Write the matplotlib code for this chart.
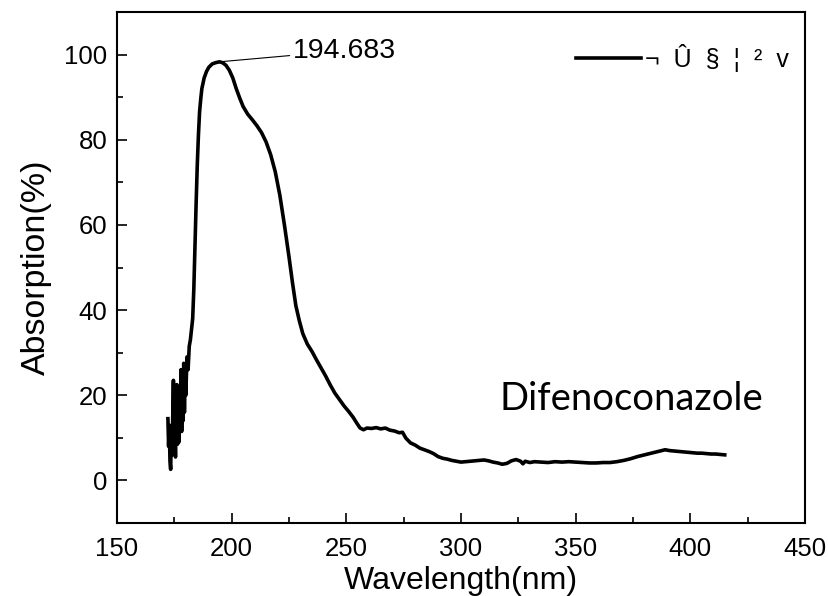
import matplotlib
matplotlib.use("Agg")
import matplotlib.pyplot as plt
from matplotlib.ticker import MultipleLocator

# Noisy onset region (nm, %)
wl_noise = [172.2, 172.5, 172.8, 173.1, 173.4, 173.7, 174.0, 174.3, 174.6, 174.9,
            175.2, 175.5, 175.8, 176.1, 176.4, 176.7, 177.0, 177.3, 177.6, 177.9,
            178.2, 178.5, 178.8, 179.1, 179.4, 179.7, 180.0, 180.5, 181.0, 181.5,
            182.0, 182.5, 183.0]
ab_noise = [14.5, 8.0, 13.0, 4.5, 2.6, 11.0, 6.0, 15.0, 23.5, 7.0,
            12.0, 5.5, 18.0, 22.5, 8.5, 17.0, 9.0, 21.0, 12.0, 26.0,
            11.5, 24.0, 14.0, 27.5, 16.0, 25.0, 20.0, 29.0, 26.0, 31.5,
            33.0, 35.5, 38.0]

# Main band and tail
wl_main = [183.5, 184, 184.5, 185, 185.5, 186, 186.5, 187, 188, 189, 190, 191.5, 193,
           194.7, 196, 197.5, 199, 200.5, 202, 203.5, 205, 207, 209, 211, 213, 215,
           217, 219, 221, 223, 225, 226.5, 228, 229.5, 231, 233, 235, 237, 239, 241,
           243, 245, 247, 249, 251, 253, 254.5, 256, 257.5, 259, 261, 263, 265, 267,
           269, 271, 273, 274.5, 276, 278, 280, 282, 284, 286, 288, 290, 292, 294,
           296, 298, 300, 302, 304, 306, 308, 310, 312, 314, 316, 318, 320, 322, 324,
           326, 327, 328, 330, 332, 335, 338, 341, 344, 347, 350, 353, 356, 359, 362,
           365, 368, 371, 374, 377, 380, 383, 386, 389, 391, 393, 395, 397, 399, 401,
           403, 405, 407, 409, 411, 413, 415]
ab_main = [45, 55, 65, 74, 81, 86.5, 89.5, 92, 94.5, 96, 97, 97.8, 98.1,
           98.3, 98.1, 97.5, 96.3, 94.5, 92.0, 89.8, 87.8, 86.0, 84.7, 83.3, 81.7, 79.5,
           76.5, 72.5, 67, 60, 52.5, 46.5, 41, 37.5, 34.5, 32, 30.3, 28.3, 26.4, 24.5,
           22.4, 20.5, 19.0, 17.5, 16.2, 14.8, 13.5, 12.3, 11.9, 12.3, 12.2, 12.4, 12.1, 12.3,
           11.8, 11.6, 11.2, 11.3, 9.9, 8.8, 8.3, 7.6, 7.2, 6.8, 6.3, 5.6, 5.2, 5.0,
           4.7, 4.5, 4.3, 4.4, 4.5, 4.6, 4.7, 4.8, 4.6, 4.3, 4.1, 3.8, 4.0, 4.6, 4.9,
           4.5, 3.9, 4.5, 4.2, 4.4, 4.3, 4.2, 4.4, 4.3, 4.4, 4.3, 4.2, 4.1, 4.1, 4.2,
           4.2, 4.4, 4.7, 5.1, 5.6, 6.0, 6.4, 6.8, 7.2, 7.0, 6.9, 6.8, 6.7, 6.6, 6.5,
           6.4, 6.4, 6.3, 6.2, 6.2, 6.1, 6.0]

wavelength = wl_noise + wl_main
absorption = ab_noise + ab_main

peak_wl = 194.683
peak_ab = 98.3
peak_label = "194.683"
legend_label = "¬  Û  §  ¦  ²  v"
sample_name = "Difenoconazole"

plt.rcParams['font.family'] = ['Liberation Sans', 'DejaVu Sans']

fig = plt.figure(figsize=(8.29, 5.96), dpi=100)
ax = fig.add_axes([117/829, 1-523/596, (805-117)/829, (523-12)/596])

ax.plot(wavelength, absorption, color='black', lw=2.6, label=legend_label,
        solid_joinstyle='round')

ax.set_xlim(150, 450)
ax.set_ylim(-10, 110)
ax.xaxis.set_major_locator(MultipleLocator(50))
ax.xaxis.set_minor_locator(MultipleLocator(25))
ax.yaxis.set_major_locator(MultipleLocator(20))
ax.yaxis.set_minor_locator(MultipleLocator(10))
ax.tick_params(which='both', direction='in', top=False, right=False,
               labelsize=18.5, width=1.2)
ax.tick_params(which='major', length=7, pad=7)
ax.tick_params(axis='x', which='major', pad=10)
ax.tick_params(which='minor', length=4)
for s in ax.spines.values():
    s.set_linewidth(1.5)

xl = ax.set_xlabel('Wavelength(nm)', fontsize=23)
xl.set_verticalalignment('baseline')
ax.xaxis.set_label_coords(0.5, (7.5 - 73) / 511)
ax.set_ylabel('Absorption(%)', fontsize=24.5, labelpad=9)

ax.annotate(peak_label, xy=(peak_wl, peak_ab), xytext=(226.5, 100.9),
            fontsize=20.5, va='center', ha='left',
            arrowprops=dict(arrowstyle='-', color='black', lw=0.8,
                            shrinkA=0, shrinkB=0))

ax.text(317, 19.2, sample_name, fontsize=27.5, family='Lato', va='center', ha='left')

leg = ax.legend(loc='upper right', bbox_to_anchor=(0.976, 0.937), frameon=False,
                fontsize=18, handlelength=2.6, handletextpad=0.15,
                borderaxespad=0, borderpad=0)

fig.savefig('out.png', dpi=100)
